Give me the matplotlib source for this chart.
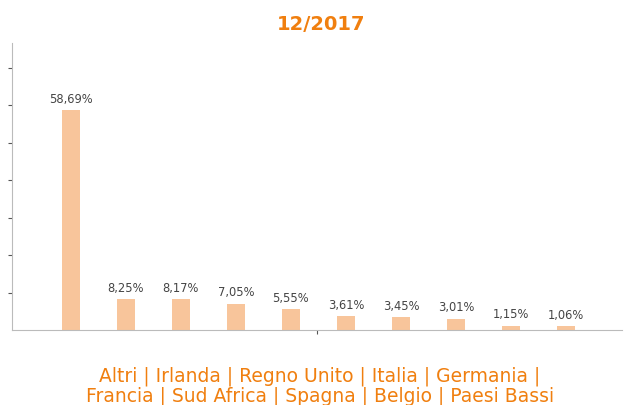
import matplotlib.pyplot as plt
import numpy as np

# quote per paese, 12/2017
countries = ["Altri", "Irlanda", "Regno Unito", "Italia", "Germania",
             "Francia", "Sud Africa", "Spagna", "Belgio", "Paesi Bassi"]
shares = [58.69, 8.25, 8.17, 7.05, 5.55, 3.61, 3.45, 3.01, 1.15, 1.06]
title = "12/2017"

orange = "#F07F0F"
bar_color = "#F8C59B"
axis_color = "#BBBBBB"

fig = plt.figure(figsize=(6.24, 4.05), dpi=100)
ax = fig.add_axes([12 / 624, 75 / 405, 610 / 624, 287 / 405])

x = np.arange(len(shares))
ax.bar(x, shares, width=0.33, color=bar_color)

# etichette dei valori sopra le barre
for xi, v in zip(x, shares):
    ax.text(xi, v + 1.2, f"{v:.2f}%".replace(".", ","), ha="center", va="bottom",
            fontsize=8.3, color="#444444")

ax.set_xlim(-1.07, 10.02)
ax.set_ylim(0, 76.6)
ax.set_yticks(np.arange(10, 80, 10))
ax.set_yticklabels([])
ax.set_xticks([(-1.07 + 10.02) / 2])
ax.set_xticklabels([])
ax.tick_params(axis="both", length=3, width=0.8, color="#555555")

for s in ["top", "right"]:
    ax.spines[s].set_visible(False)
ax.spines["left"].set_color(axis_color)
ax.spines["bottom"].set_color(axis_color)

fig.text(321 / 624, 1 - 24 / 405, title, ha="center", va="center",
         fontsize=14, fontweight="bold", color=orange)

legend_text = " | ".join(countries[:5]) + " |\n" + " | ".join(countries[5:])
fig.text(320 / 624, 1 - 386 / 405, legend_text, ha="center", va="center", fontsize=13.5,
         color=orange, linespacing=1.05)

fig.savefig("out.png", dpi=100)
